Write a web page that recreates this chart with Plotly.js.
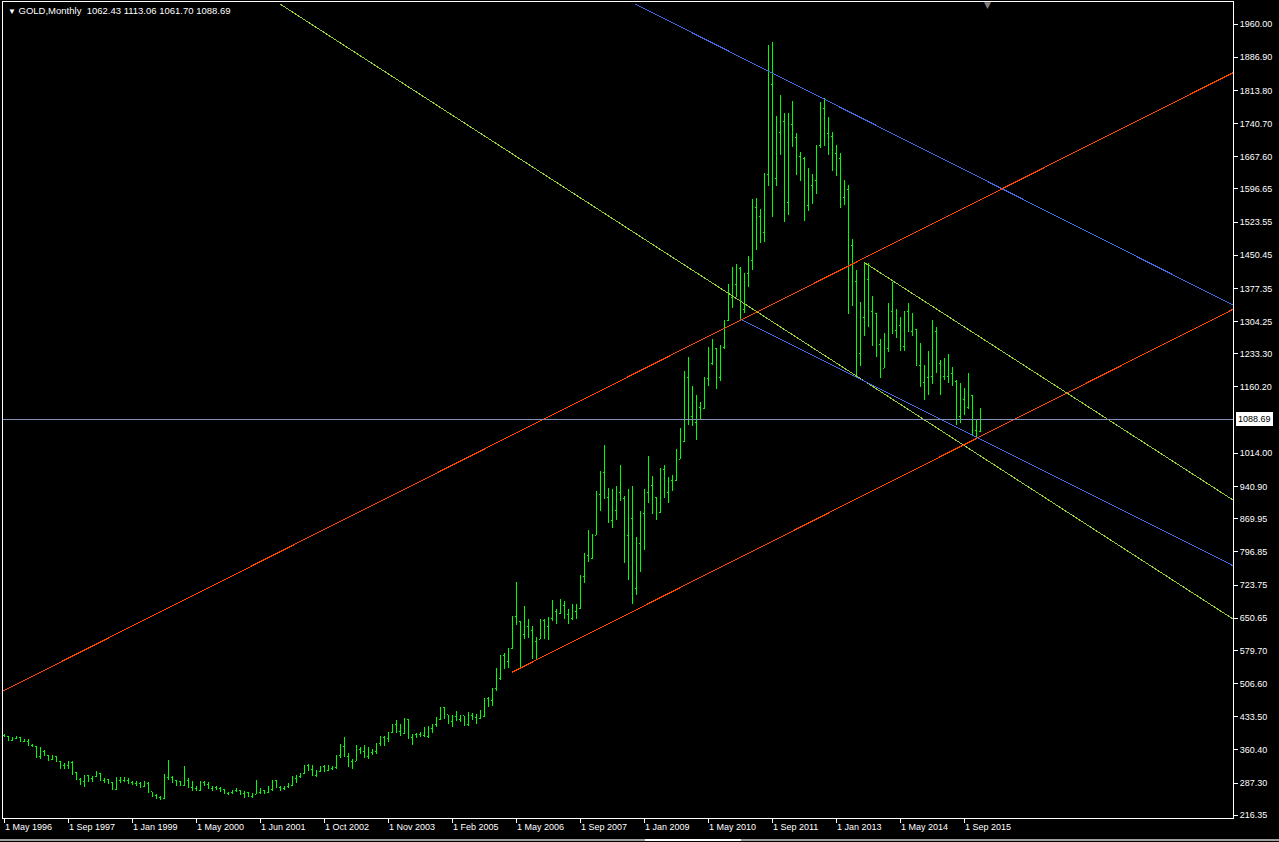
<!DOCTYPE html>
<html>
<head>
<meta charset="utf-8">
<script src="https://cdn.plot.ly/plotly-3.0.1.min.js"></script>
<style>
  html, body { margin: 0; padding: 0; background: #000000; }
  #chart { width: 1279px; height: 842px; }
  #chart svg path { shape-rendering: crispEdges; }
</style>
</head>
<body>
<div id="chart"></div>
<script>
// ---------------- DATA ----------------
const symbolTitle = "GOLD,Monthly";
const lastBarQuote = [1062.43, 1113.06, 1061.70, 1088.69];
const bidPrice = 1088.69;

const tickLabels = ["1 May 1996","1 Sep 1997","1 Jan 1999","1 May 2000","1 Jun 2001","1 Oct 2002",
  "1 Nov 2003","1 Feb 2005","1 May 2006","1 Sep 2007","1 Jan 2009","1 May 2010","1 Sep 2011",
  "1 Jan 2013","1 May 2014","1 Sep 2015"];
const tickBars = [0,16,32,48,64,80,96,112,128,144,160,176,192,208,224,240];

const priceTicks = [1960.00,1886.90,1813.80,1740.70,1667.60,1596.65,1523.55,1450.45,1377.35,1304.25,
  1233.30,1160.20,1014.00,940.90,869.95,796.85,723.75,650.65,579.70,506.60,433.50,360.40,287.30,216.35];

// monthly bars (one entry per bar, left to right)
const barOpen = [
 392,391,382,385,387,379,379,371,
 369,345,358,349,340,345,334,326,325,332,311,296,
 290,304,297,301,308,294,296,288,273,293,292,294,
 288,287,287,280,286,268,261,255,254,299,299,292,
 290,283,293,278,275,272,288,284,276,278,276,273,264,266,270,
 272,265,267,258,263,267,270,266,273,293,278,275,
 279,282,297,301,308,326,318,304,312,323,316,319,321,
 348,368,347,334,336,361,358,346,354,356,375,388,386,398,
 417,400,396,427,387,394,395,393,391,408,416,428,453,
 438,422,435,428,436,417,437,432,429,433,473,470,495,
 517,569,556,583,654,643,614,633,624,599,604,646,
 632,650,665,662,679,659,650,666,673,743,789,783,
 834,923,972,916,865,887,928,914,833,871,717,815,
 882,928,942,916,883,978,927,955,955,1001,1040,1182,
 1096,1081,1116,1113,1179,1213,1244,1181,1248,1307,1357,1386,
 1421,1332,1410,1439,1556,1536,1500,1628,1826,1620,1722,1746,
 1566,1738,1711,1669,1664,1561,1604,1615,1692,1773,1719,1712,
 1675,1663,1578,1595,1472,1392,1234,1313,1396,1326,1323,1253,
 1202,1244,1326,1284,1296,1250,1327,1282,1287,1208,1171,1182,
 1184,1283,1212,1183,1183,1190,1172,1095,1132,1115,1142,1065,
 1062.43];
const barHigh = [
 396,391,389,392,388,385,385,374,
 369,366,360,349,350,346,335,331,337,336,312,299,
 306,305,303,314,310,299,297,290,300,301,301,298,
 293,291,290,291,290,268,263,259,307,339,302,294,
 291,324,298,292,280,293,291,290,280,282,279,275,268,271,276,
 273,270,268,266,294,276,272,281,295,294,280,282,
 288,303,305,310,328,330,327,317,326,327,328,325,349,
 373,389,353,340,372,367,372,366,362,376,391,392,400,
 417,427,418,431,428,396,397,401,412,414,416,432,455,
 456,438,437,447,437,436,443,441,439,448,475,477,497,
 540,570,574,586,655,730,645,677,650,633,609,650,
 650,653,691,672,694,689,672,683,682,746,795,845,
 837,932,976,1033,937,936,941,988,920,936,942,829,
 888,935,1007,963,917,981,989,961,967,1024,1070,1195,
 1227,1162,1142,1127,1183,1249,1265,1245,1253,1308,1388,1424,
 1431,1424,1411,1448,1575,1577,1552,1632,1913,1921,1757,1803,
 1763,1763,1791,1720,1677,1668,1642,1629,1693,1788,1796,1755,
 1723,1694,1676,1617,1605,1487,1417,1348,1434,1433,1361,1323,
 1267,1280,1345,1392,1331,1315,1328,1345,1324,1288,1256,1208,
 1239,1307,1293,1220,1224,1233,1205,1175,1170,1157,1191,1142,
 1088,
 1113.06];
const barLow = [
 388,380,380,384,378,377,370,366,
 343,340,346,337,338,334,318,318,318,306,294,283,
 279,290,289,301,292,287,286,272,273,288,290,285,
 283,282,277,278,265,256,252,251,253,294,288,281,
 282,282,277,271,270,271,281,275,271,273,267,263,262,263,267,
 262,255,256,255,263,264,263,266,271,278,270,272,
 277,282,288,299,307,314,302,300,311,312,314,316,318,
 343,344,322,319,335,352,342,341,350,352,368,368,378,
 398,397,392,396,385,372,387,389,388,387,398,411,426,
 428,418,412,424,421,414,414,426,418,429,433,456,458,
 490,515,538,541,583,635,543,605,606,560,560,604,
 605,602,645,637,660,650,639,647,649,671,728,775,
 782,834,887,913,860,850,867,908,773,735,681,702,
 752,800,904,880,866,883,915,905,932,953,1001,1040,
 1076,1075,1044,1088,1112,1162,1208,1155,1174,1243,1305,1334,
 1358,1309,1324,1381,1418,1462,1478,1480,1604,1535,1603,1671,
 1523,1540,1689,1627,1613,1527,1549,1564,1586,1686,1692,1672,
 1636,1626,1555,1562,1321,1338,1180,1207,1272,1292,1251,1227,
 1180,1202,1238,1277,1268,1240,1240,1281,1273,1206,1160,1131,
 1142,1167,1191,1142,1175,1170,1162,1077,1080,1099,1111,1053,
 1046,
 1061.70];
const barClose = [
 391,382,385,387,379,379,371,369,
 345,358,349,340,345,334,326,325,332,311,296,290,
 304,297,301,308,294,296,288,273,293,292,294,288,
 287,287,280,286,268,261,255,254,299,299,292,290,
 283,293,278,275,272,288,284,276,278,276,273,264,266,270,272,
 265,267,258,263,267,270,266,273,293,278,275,279,
 282,297,301,308,326,318,304,312,323,316,319,321,348,
 368,347,334,336,361,358,346,354,356,375,388,386,398,
 417,400,396,427,387,394,395,393,391,408,416,428,453,
 438,422,435,428,436,417,437,432,429,433,473,470,495,
 517,569,556,583,654,643,614,633,624,599,604,646,
 632,650,665,662,679,659,650,666,673,743,789,783,
 834,923,972,916,865,887,928,914,833,871,717,815,
 882,928,942,916,883,978,927,955,955,1001,1040,1182,
 1096,1081,1116,1113,1179,1213,1244,1181,1248,1307,1357,1386,
 1421,1332,1410,1439,1556,1536,1500,1628,1826,1620,1722,1746,
 1566,1738,1711,1669,1664,1561,1604,1615,1692,1773,1719,1712,
 1675,1663,1578,1595,1472,1392,1234,1313,1396,1326,1323,1253,
 1202,1244,1326,1284,1296,1250,1327,1282,1287,1208,1171,1182,
 1184,1283,1212,1183,1183,1190,1172,1095,1132,1115,1142,1065,
 1061,
 1088.69];

// drawn trend lines (bar position, price) : start -> end
const trendStartBar   = [69, 215, 157.75, 184.1, -0.25, 127];
const trendStartPrice = [2004.1, 1434.9, 2004.1, 1309.3, 490.3, 531.5];
const trendEndBar     = [307.25, 307.25, 307.25, 307.25, 307.25, 307.25];
const trendEndPrice   = [648.9, 911.1, 1340.8, 766.4, 1852.7, 1331.3];

// ---------------- STYLE ----------------
const trendColors = ['#9acd32','#9acd32','#4169e1','#4169e1','#ff4500','#ff4500'];
const barColor = '#00ff00';
const fontFam = 'Liberation Sans, Arial, sans-serif';

const barIndex = barClose.map((_, i) => i);

const trace = {
  type: 'ohlc',
  x: barIndex,
  open: barOpen, high: barHigh, low: barLow, close: barClose,
  increasing: { line: { color: barColor, width: 1 } },
  decreasing: { line: { color: barColor, width: 1 } },
  tickwidth: 0.25,
  hoverinfo: 'skip',
  showlegend: false
};

const shapes = trendStartBar.map((b, i) => ({
  type: 'line', xref: 'x', yref: 'y', layer: 'above',
  x0: b, y0: trendStartPrice[i], x1: trendEndBar[i], y1: trendEndPrice[i],
  line: { color: trendColors[i], width: 1 }
}));
shapes.push({
  type: 'line', xref: 'paper', yref: 'y', layer: 'above',
  x0: 0, x1: 1, y0: bidPrice, y1: bidPrice,
  line: { color: '#8193b0', width: 1 }
});
// window bottom border
shapes.push({ type: 'line', xref: 'paper', yref: 'paper', x0: -0.01, x1: 1.04, y0: -0.0265, y1: -0.0265,
  line: { color: '#a0a0a0', width: 2 } });
shapes.push({ type: 'line', xref: 'paper', yref: 'paper', x0: 0.522, x1: 0.6, y0: -0.0265, y1: -0.0265,
  line: { color: '#ffffff', width: 2 } });

const annotations = [
  { xref: 'paper', yref: 'paper', x: 0, y: 1, xanchor: 'left', yanchor: 'top', xshift: 3, yshift: -1,
    showarrow: false, align: 'left',
    text: '<span style="font-size:8px">▼</span> ' + symbolTitle + '\u00a0\u00a0' + lastBarQuote.map(v => v.toFixed(2)).join(' '),
    font: { family: fontFam, size: 9.5, color: '#ffffff' } },
  { xref: 'paper', yref: 'y', x: 1, y: bidPrice, xanchor: 'left', yanchor: 'middle', xshift: 3,
    showarrow: false, text: bidPrice.toFixed(2), bgcolor: '#ffffff', bordercolor: '#ffffff',
    borderpad: 1, font: { family: fontFam, size: 9, color: '#000000' } },
  { xref: 'paper', yref: 'paper', x: 0.8, y: 1, xanchor: 'center', yanchor: 'top', yshift: 4,
    showarrow: false, text: '▼', font: { family: 'DejaVu Sans', size: 9, color: '#808080' } }
];

const layout = {
  width: 1279, height: 842,
  margin: { l: 3, r: 46, t: 2, b: 24, pad: 0 },
  paper_bgcolor: '#000000', plot_bgcolor: '#000000',
  showlegend: false,
  xaxis: {
    range: [-0.25, 307.25], showgrid: false, zeroline: false,
    showline: true, linecolor: '#ffffff', linewidth: 1, mirror: true,
    ticks: 'outside', ticklen: 4, tickcolor: '#ffffff', tickwidth: 1,
    tickmode: 'array', tickvals: tickBars, ticktext: tickLabels,
    ticklabelposition: 'outside right',
    tickfont: { family: fontFam, size: 9, color: '#ffffff' },
    rangeslider: { visible: false }, fixedrange: true
  },
  yaxis: {
    side: 'right', range: [210.4, 2008.5], showgrid: false, zeroline: false,
    showline: true, linecolor: '#ffffff', linewidth: 1, mirror: true,
    ticks: 'outside', ticklen: 4, tickcolor: '#ffffff', tickwidth: 1,
    tickmode: 'array', tickvals: priceTicks, ticktext: priceTicks.map(v => v.toFixed(2)),
    tickfont: { family: fontFam, size: 9, color: '#ffffff' },
    fixedrange: true
  },
  shapes: shapes,
  annotations: annotations
};

Plotly.newPlot('chart', [trace], layout, { displayModeBar: false, staticPlot: true });
</script>
</body>
</html>
